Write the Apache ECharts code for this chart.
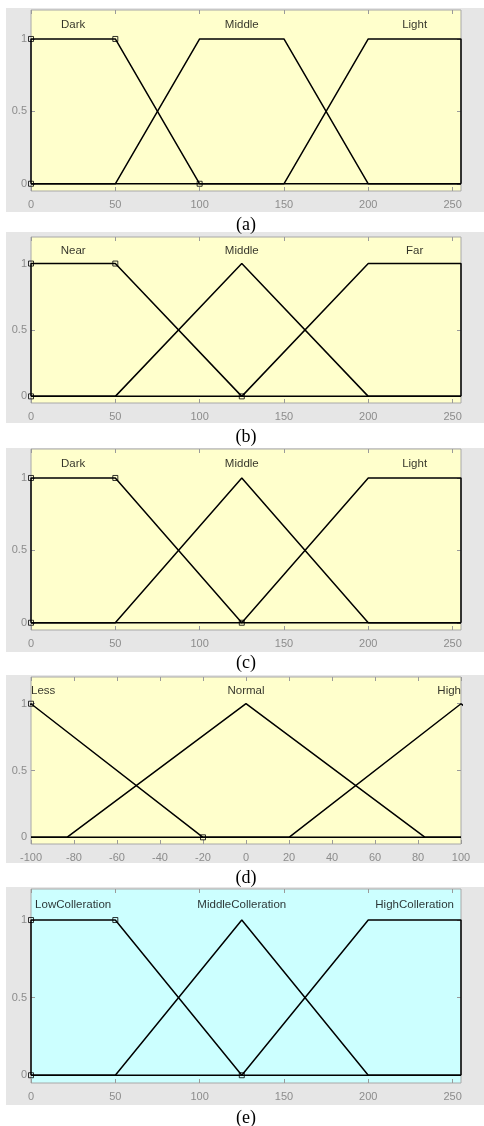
<!DOCTYPE html>
<html>
<head>
<meta charset="utf-8">
<script src="https://cdn.jsdelivr.net/npm/echarts@6/dist/echarts.min.js"></script>
<style>
  html, body { margin: 0; padding: 0; background: #fff; }
  #chart { width: 484px; height: 1126px; }
</style>
</head>
<body>
<div id="chart"></div>
<script>
// tick labels
const xTicks = [0, 50, 100, 150, 200, 250];
const xTicksD = [-100, -80, -60, -40, -20, 0, 20, 40, 60, 80, 100];
const yTicks = [0, 0.5, 1];

// membership functions, one list of break points per MF
const namesA = ['Dark', 'Middle', 'Light'];
const mfA = [
  [[0, 0], [0, 1], [50, 1], [100, 0]],
  [[50, 0], [100, 1], [150, 1], [200, 0]],
  [[150, 0], [200, 1], [255, 1], [255, 0]]
];
const namesB = ['Near', 'Middle', 'Far'];
const mfB = [
  [[0, 0], [0, 1], [50, 1], [125, 0]],
  [[50, 0], [125, 1], [200, 0]],
  [[125, 0], [200, 1], [255, 1], [255, 0]]
];
const namesC = ['Dark', 'Middle', 'Light'];
const mfC = [
  [[0, 0], [0, 1], [50, 1], [125, 0]],
  [[50, 0], [125, 1], [200, 0]],
  [[125, 0], [200, 1], [255, 1], [255, 0]]
];
const namesD = ['Less', 'Normal', 'High'];
const mfD = [
  [[-180, 0], [-100, 1], [-20, 0]],
  [[-83.3, 0], [0, 1], [83.3, 0]],
  [[20, 0], [100, 1], [180, 0]]
];
const namesE = ['LowColleration', 'MiddleColleration', 'HighColleration'];
const mfE = [
  [[0, 0], [0, 1], [50, 1], [125, 0]],
  [[50, 0], [125, 1], [200, 0]],
  [[125, 0], [200, 1], [255, 1], [255, 0]]
];

// 面板布局
const panels = [
  { names: namesA, mf: mfA, min: 0, max: 255, ticks: xTicks, bg: '#ffffcc', top: 10, h: 181, boxTop: 8, boxH: 204, cap: '(a)', capY: 225 },
  { names: namesB, mf: mfB, min: 0, max: 255, ticks: xTicks, bg: '#ffffcc', top: 237, h: 166, boxTop: 232, boxH: 191, cap: '(b)', capY: 437 },
  { names: namesC, mf: mfC, min: 0, max: 255, ticks: xTicks, bg: '#ffffcc', top: 449, h: 181, boxTop: 448, boxH: 204, cap: '(c)', capY: 663 },
  { names: namesD, mf: mfD, min: -100, max: 100, ticks: xTicksD, bg: '#ffffcc', top: 677, h: 167, boxTop: 675, boxH: 188, cap: '(d)', capY: 878 },
  { names: namesE, mf: mfE, min: 0, max: 255, ticks: xTicks, bg: '#ccffff', top: 889, h: 194, boxTop: 887, boxH: 218, cap: '(e)', capY: 1118 }
];

const tickColor = '#9a9a9a';
const labelColor = '#8c8c8c';
const labelFont = 'Liberation Sans, Arial, sans-serif';

const grid = [];
const xAxis = [];
const yAxis = [];
const series = [];
const graphic = [];

panels.forEach((p, i) => {
  grid.push({
    left: 31, width: 430, top: p.top, height: p.h,
    show: true, backgroundColor: p.bg, borderColor: '#a8a8a8', borderWidth: 1
  });
  const xBase = {
    type: 'value', gridIndex: i, min: p.min, max: p.max,
    splitLine: { show: false },
    axisLine: { show: false, onZero: false },
    axisTick: { show: true, inside: true, length: 4, lineStyle: { color: tickColor }, customValues: p.ticks },
  };
  xAxis.push(Object.assign({}, xBase, {
    position: 'bottom',
    axisLabel: { customValues: p.ticks, color: labelColor, fontSize: 11, fontFamily: labelFont, margin: 8 }
  }));
  xAxis.push(Object.assign({}, xBase, { position: 'top', axisLabel: { show: false } }));
  const yBase = {
    type: 'value', gridIndex: i, min: -0.05, max: 1.2,
    splitLine: { show: false },
    axisLine: { show: false, onZero: false },
    axisTick: { show: true, inside: true, length: 4, lineStyle: { color: tickColor }, customValues: yTicks },
  };
  yAxis.push(Object.assign({}, yBase, {
    position: 'left',
    axisLabel: { customValues: yTicks, color: labelColor, fontSize: 11, fontFamily: labelFont, margin: 4 }
  }));
  yAxis.push(Object.assign({}, yBase, { position: 'right', axisLabel: { show: false } }));

  const labels = [];
  p.mf.forEach((pts, k) => {
    const full = [];
    if (pts[0][0] > p.min) full.push([p.min, 0]);
    pts.forEach(q => full.push(q));
    if (pts[pts.length - 1][0] < p.max) full.push([p.max, 0]);
    series.push({
      type: 'line', xAxisIndex: 2 * i, yAxisIndex: 2 * i, data: full,
      showSymbol: false, symbol: 'none', clip: true, silent: true,
      lineStyle: { color: '#000', width: 1.5 }, z: 3
    });
    // label sits over the top of each MF
    const xs = pts.filter(q => q[1] === 1).map(q => Math.min(p.max, Math.max(p.min, q[0])));
    const c = (Math.min(...xs) + Math.max(...xs)) / 2;
    const align = c <= p.min ? 'left' : (c >= p.max ? 'right' : 'center');
    labels.push({ name: p.names[k], value: [c, 1.095], label: { align: align } });
  });
  // selected MF markers
  series.push({
    type: 'scatter', xAxisIndex: 2 * i, yAxisIndex: 2 * i, data: p.mf[0],
    symbol: 'rect', symbolSize: 5, clip: true, silent: true, z: 4,
    itemStyle: { color: 'rgba(0,0,0,0)', borderColor: '#000', borderWidth: 1 }
  });
  series.push({
    type: 'scatter', xAxisIndex: 2 * i, yAxisIndex: 2 * i, data: labels,
    symbolSize: 1, silent: true, z: 5,
    itemStyle: { color: 'rgba(0,0,0,0)' },
    label: {
      show: true, position: 'inside', formatter: '{b}',
      color: '#000', fontSize: 11.5, fontFamily: labelFont, verticalAlign: 'middle'
    }
  });

  graphic.push({
    type: 'rect', z: -10, silent: true,
    shape: { x: 6, y: p.boxTop, width: 478, height: p.boxH },
    style: { fill: '#e6e6e6' }
  });
  graphic.push({
    type: 'text', x: 246, y: p.capY, silent: true,
    style: {
      text: p.cap, fill: '#000', font: '18px "Liberation Serif", "Times New Roman", serif',
      textAlign: 'center', textVerticalAlign: 'middle'
    }
  });
});

const myChart = echarts.init(document.getElementById('chart'));
myChart.setOption({
  animation: false,
  backgroundColor: '#fff',
  grid: grid,
  xAxis: xAxis,
  yAxis: yAxis,
  series: series,
  graphic: graphic
});
</script>
</body>
</html>
